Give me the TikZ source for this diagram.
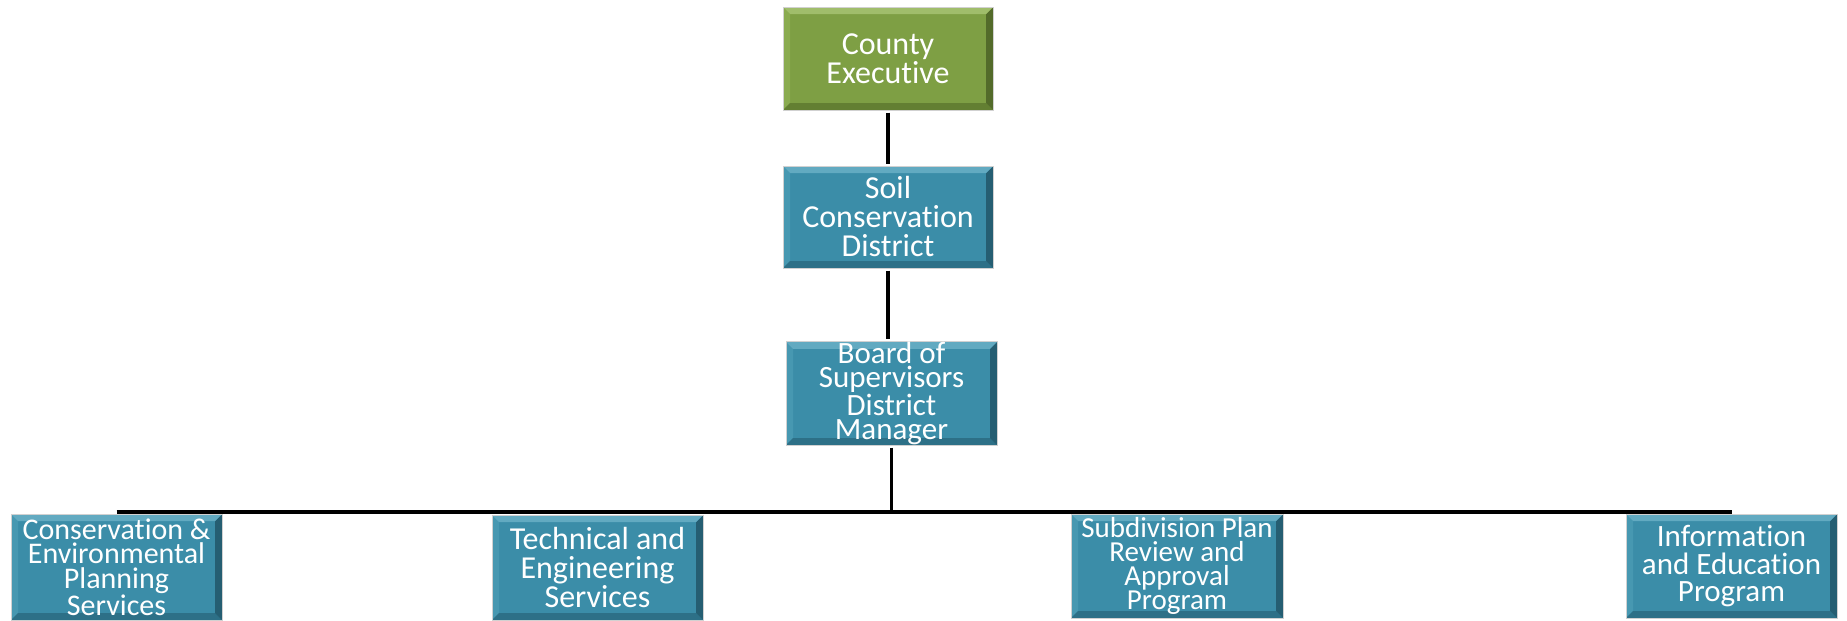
\documentclass[tikz,border=0pt]{standalone}
\usepackage{fontspec}
\setmainfont{Carlito}[Ligatures=NoCommon]
\definecolor{tealmain}{HTML}{3B8DA8}
\definecolor{teallight}{HTML}{62AAC1}
\definecolor{tealleft}{HTML}{4798B1}
\definecolor{tealdark}{HTML}{2D7087}
\definecolor{tealdarker}{HTML}{255E72}
\definecolor{greenmain}{HTML}{7E9F44}
\definecolor{greenlight}{HTML}{A0BD6B}
\definecolor{greenleft}{HTML}{8AAB50}
\definecolor{greendark}{HTML}{637F32}
\definecolor{greendarker}{HTML}{536B2A}
\newcommand\bevelfx[1]{%
  \path (path picture bounding box.south west) coordinate (pSW)
        (path picture bounding box.north east) coordinate (pNE)
        (path picture bounding box.north west) coordinate (pNW)
        (path picture bounding box.south east) coordinate (pSE);
  \path ([shift={(7pt,7pt)}]pSW) coordinate (qSW)
        ([shift={(-7pt,-7pt)}]pNE) coordinate (qNE)
        ([shift={(7pt,-7pt)}]pNW) coordinate (qNW)
        ([shift={(-7pt,7pt)}]pSE) coordinate (qSE);
  \fill[#1left] (pNW) -- (qNW) -- (qSW) -- (pSW) -- cycle;
  \fill[#1dark] (pSW) -- (qSW) -- (qSE) -- (pSE) -- cycle;
  \fill[#1darker] (pNE) -- (pSE) -- (qSE) -- (qNE) -- cycle;
  \fill[#1light] (pNW) -- (pNE) -- (qNE) -- (qNW) -- cycle;
}
\tikzset{
  orgbox/.style={rectangle, draw=black!18, line width=1pt, fill=#1main,
    text=white, align=center, inner sep=0pt, path picture={\bevelfx{#1}}},
  conn/.style={draw=black, line width=3.5pt}
}
% #1 name, #2 x1, #3 y1, #4 x2, #5 y2, #6 scheme, #7 font, #8 text
\newcommand\orgnode[8]{%
  \node[orgbox=#6, font=#7, minimum width={#4-#2}, minimum height={#5-#3}]
    (#1) at ({(#2+#4)/2},{(#3+#5)/2}) {#8};
}
\begin{document}
\begin{tikzpicture}[x=1pt,y=-1pt]
\useasboundingbox (0,0) rectangle (1847,621);
\orgnode{ce}{783}{7}{993}{110}{green}{\fontsize{32}{29}\selectfont}{County\\Executive}
\orgnode{scd}{783}{166}{993}{268}{teal}{\fontsize{32}{29}\selectfont}{Soil\\Conservation\\District}
\orgnode{bos}{786}{342}{997}{445}{teal}{\fontsize{31}{24.5}\selectfont}{Board of\\Supervisors\\District\\Manager}
\orgnode{cep}{11}{514}{222}{620}{teal}{\fontsize{30}{24.5}\selectfont}{Conservation \&\\Environmental\\Planning\\Services}
\orgnode{tes}{492}{515}{703}{620}{teal}{\fontsize{32}{29}\selectfont}{Technical and\\Engineering\\Services}
\orgnode{spr}{1071}{514}{1283}{618}{teal}{\fontsize{29}{24}\selectfont}{Subdivision Plan\\Review and\\Approval\\Program}
\orgnode{ied}{1626}{514}{1837}{618}{teal}{\fontsize{31}{27.5}\selectfont}{Information\\and Education\\Program}
\coordinate (bus) at (0,512);
\draw[conn, shorten <=2pt, shorten >=2pt] (ce.south) -- (scd.north);
\draw[conn, shorten <=2pt, shorten >=2pt] (scd.south) -- (scd.south |- bos.north);
\draw[conn, shorten <=2pt] (bos.south) -- (bos.south |- bus);
\draw[conn] (cep.north |- bus) -- (ied.north |- bus);
\end{tikzpicture}
\end{document}
